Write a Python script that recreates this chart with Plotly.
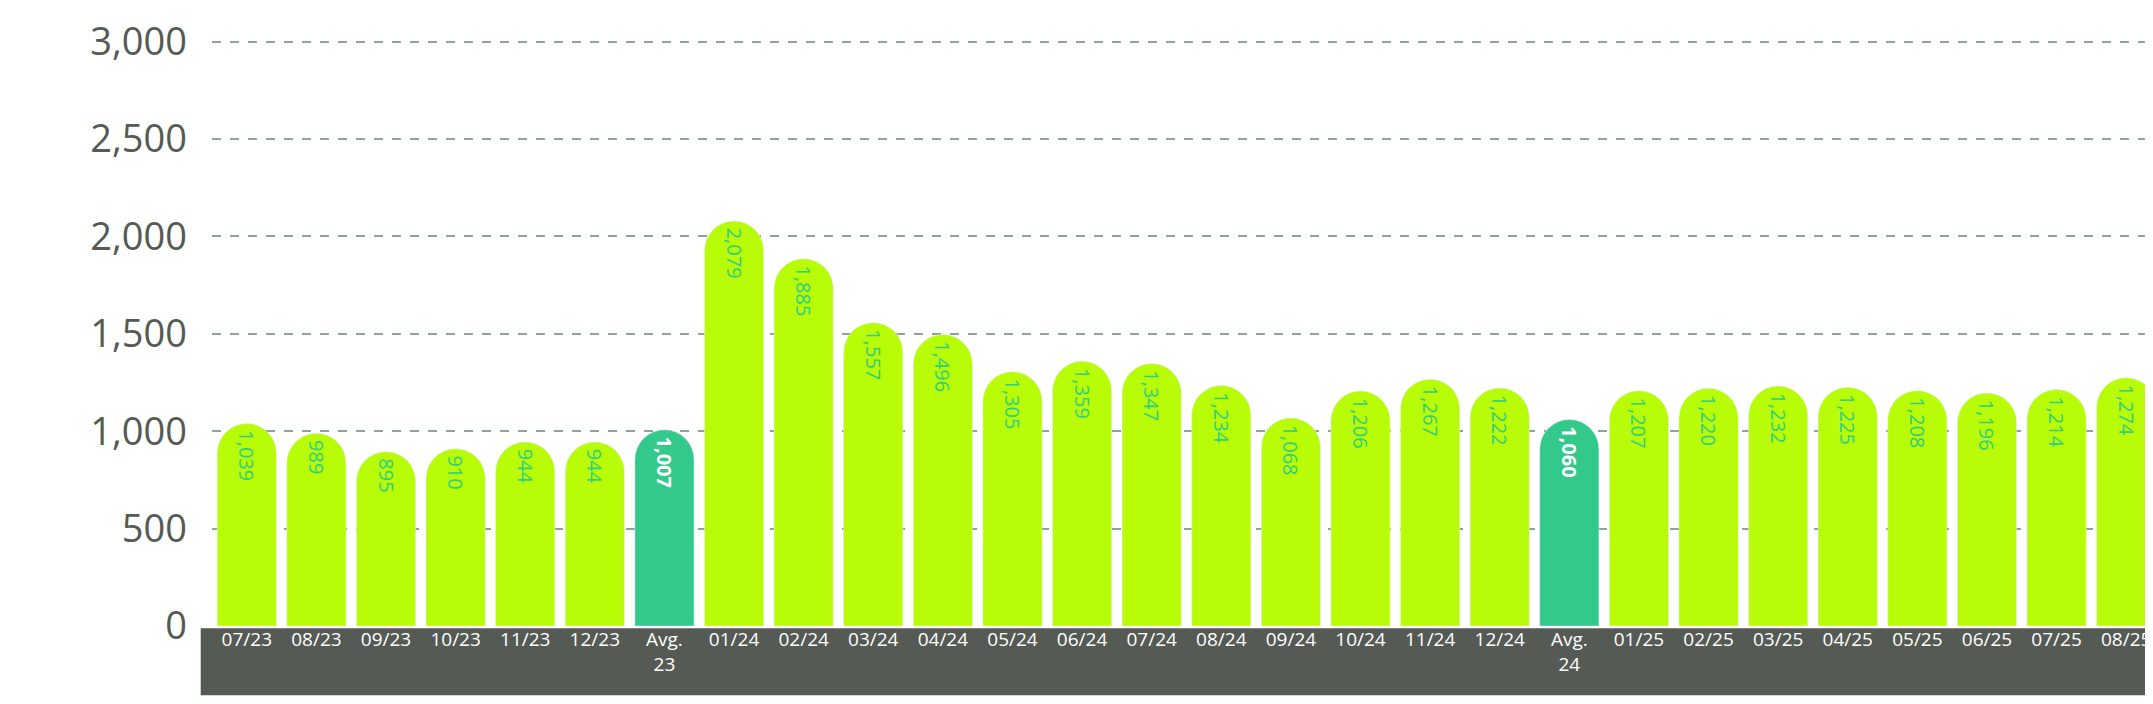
import plotly.graph_objects as go

categories = ["07/23","08/23","09/23","10/23","11/23","12/23","Avg.<br>23","01/24","02/24","03/24","04/24","05/24","06/24","07/24","08/24","09/24","10/24","11/24","12/24","Avg.<br>24","01/25","02/25","03/25","04/25","05/25","06/25","07/25","08/25"]
values = [1039,989,895,910,944,944,1007,2079,1885,1557,1496,1305,1359,1347,1234,1068,1206,1267,1222,1060,1207,1220,1232,1225,1208,1196,1214,1274]
labels = [f"{v:,}" for v in values]
is_avg = [c.startswith("Avg") for c in categories]

colors = ["#33c98b" if a else "#b8fc08" for a in is_avg]
txtcolors = ["#ffffff" if a else "#2fcf7f" for a in is_avg]
txtfonts = ["<b>%s</b>" % l if a else l for l, a in zip(labels, is_avg)]

fig = go.Figure(go.Bar(
    x=list(range(len(categories))), y=values, marker_color=colors,
    text=txtfonts, textposition="inside", insidetextanchor="end", textangle=90,
    textfont=dict(color=txtcolors, size=20, family="Open Sans"),
    cliponaxis=False, hoverinfo="skip"))
fig.update_layout(
    width=2153, height=704, plot_bgcolor="white", paper_bgcolor="white",
    margin=dict(l=204, r=0, t=32, b=86), bargap=0.15, barcornerradius=30,
    showlegend=False, uniformtext=dict(minsize=20, mode="show"),
    shapes=[dict(type="rect", xref="paper", yref="paper", x0=-0.0058, x1=0.998, y0=-0.004, y1=-0.118,
                 fillcolor="#555a55", line_width=0, layer="below")])
fig.update_xaxes(tickmode="array", tickvals=list(range(len(categories))), ticktext=categories,
                 tickfont=dict(color="white", size=19, family="Open Sans"), showgrid=False, zeroline=False,
                 showline=False, ticks="", range=[-0.5, len(categories)-0.5])
fig.update_yaxes(range=[0, 3008], tickvals=[0,500,1000,1500,2000,2500,3000], tickformat=",",
                 tickfont=dict(color="#555a55", size=38, family="Open Sans"), showgrid=True,
                 gridcolor="#8fa39b", griddash="dash", gridwidth=2, zeroline=False,
                 ticklabelstandoff=24)
fig.write_html("out.html")
